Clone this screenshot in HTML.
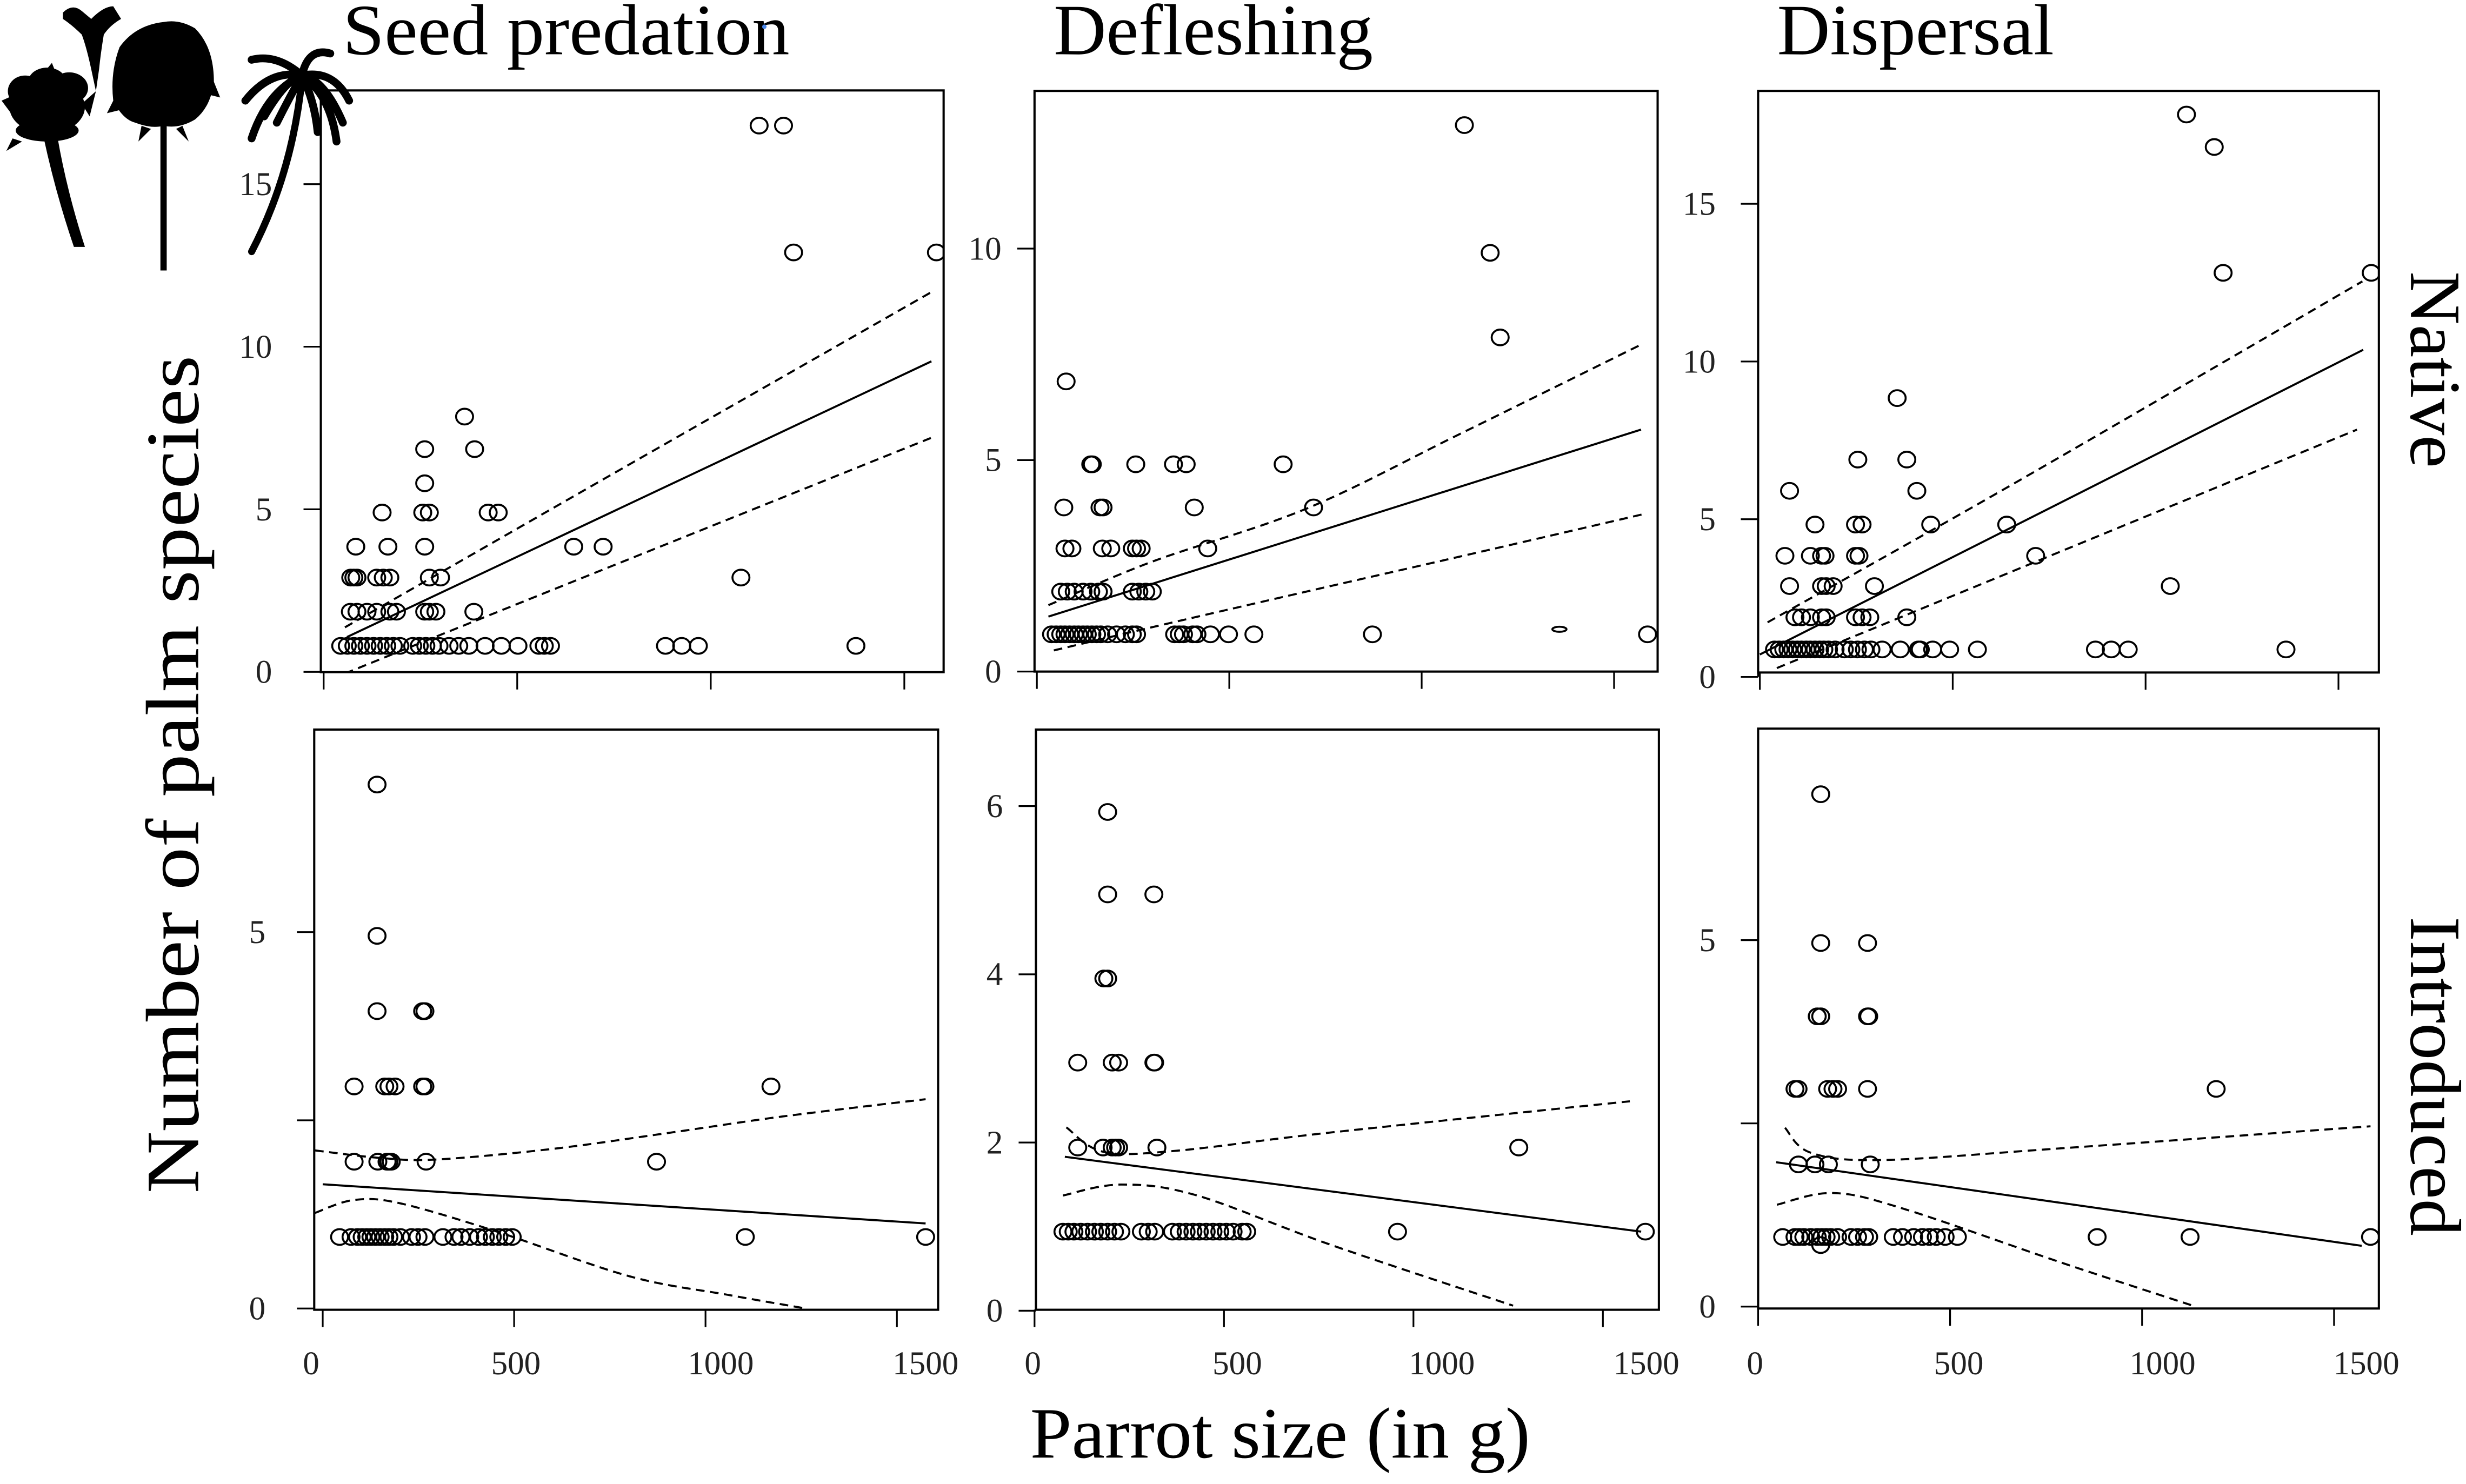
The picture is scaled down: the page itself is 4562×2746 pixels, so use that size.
<!DOCTYPE html>
<html><head><meta charset="utf-8"><style>
html,body{margin:0;padding:0;background:#fff;}
svg{display:block;}
text{font-family:"Liberation Serif","Times New Roman",serif;}
</style></head><body>
<svg id="fig" xmlns="http://www.w3.org/2000/svg" width="4562" height="2746" viewBox="0 0 1568 943.8">
<rect x="0" y="0" width="1568" height="943.8" fill="#fff"/>
<defs id="defs"></defs>
<g fill="#000" stroke="none">
  <g>
    <ellipse cx="30" cy="68" rx="24" ry="17"/>
    <ellipse cx="16" cy="58" rx="11" ry="10"/>
    <ellipse cx="44" cy="56" rx="12" ry="10"/>
    <ellipse cx="30" cy="52" rx="12" ry="9"/>
    <ellipse cx="30" cy="83" rx="20" ry="7"/>
    <path d="M7,72 L1,64 L10,60 Z M52,66 L61,58 L57,74 Z M28,46 L33,40 L37,50 Z M8,88 L4,96 L14,90 Z"/>
    <path d="M27,84 L36,84 Q42,120 54,157 L47,157 Q35,122 27,84 Z"/>
  </g>
  <g>
    <path d="M40,8 Q46,2 52,7 L58,12 Q66,4 72,4 L77,12 Q70,16 66,22 Q64,34 63,44 L61,58 L58,44 Q55,30 52,22 Q46,16 40,12 Z"/>
  </g>
  <g>
    <path d="M104,14 Q86,16 76,30 Q70,46 72,64 Q78,76 86,78 Q96,82 104,80 Q114,82 124,76 Q134,68 136,52 Q136,30 124,18 Q114,12 104,14 Z"/>
    <path d="M72,64 L68,72 L76,70 Z M136,52 L140,62 L132,60 Z M90,80 L88,90 L96,82 Z M116,80 L120,90 L112,82 Z"/>
    <path d="M102,60 L106,60 L106,172 L102,172 Z"/>
  </g>
  <g fill="none" stroke="#000" stroke-linecap="round">
    <path d="M192,48 Q172,44 156,64" stroke-width="5"/>
    <path d="M192,48 Q170,58 160,88" stroke-width="5"/>
    <path d="M192,48 Q176,34 160,38" stroke-width="5"/>
    <path d="M192,48 Q196,30 210,34" stroke-width="5"/>
    <path d="M192,48 Q212,44 222,64" stroke-width="5"/>
    <path d="M192,48 Q210,60 214,90" stroke-width="5"/>
    <path d="M192,48 Q200,64 202,84" stroke-width="5"/>
    <path d="M192,48 Q184,62 176,78" stroke-width="5"/>
    <path d="M192,48 Q182,50 168,74" stroke-width="5"/>
    <path d="M192,48 Q206,50 218,78" stroke-width="5"/>
    <path d="M192,50 Q186,110 160,160" stroke-width="4.5"/>
  </g>
</g>
<text x="218" y="34.5" font-size="46" textLength="284" lengthAdjust="spacingAndGlyphs">Seed predation</text>
<circle cx="486" cy="17" r="1.4" fill="#4a86e8"/>
<text x="670" y="34.5" font-size="46" textLength="203" lengthAdjust="spacingAndGlyphs">Defleshing</text>
<text x="1130" y="34.5" font-size="46" textLength="176" lengthAdjust="spacingAndGlyphs">Dispersal</text>
<text transform="translate(126,759) rotate(-90)" x="0" y="0" font-size="48" textLength="533" lengthAdjust="spacingAndGlyphs">Number of palm species</text>
<text x="655" y="927" font-size="46" textLength="318" lengthAdjust="spacingAndGlyphs">Parrot size (in g)</text>
<text transform="translate(1533,172.6) rotate(90)" x="0" y="0" font-size="46" textLength="125" lengthAdjust="spacingAndGlyphs">Native</text>
<text transform="translate(1533,583) rotate(90)" x="0" y="0" font-size="46" textLength="203" lengthAdjust="spacingAndGlyphs">Introduced</text>
<g id="panels"></g>
</svg>
<script>
// ---------- data ----------
const xTicks = [0, 500, 1000, 1500];
const xTickLabels = ["0", "500", "1000", "1500"];

// Seed predation / Native
const P11_x = [1125,1188, 1214,1583, 364, 261,390, 261, 151,256,273,425,451, 83,166,261,646,722, 70,78,86,137,154,171,273,302,1078, 69,86,112,137,171,188,261,273,290,388, 44,61,78,95,112,129,146,163,180,197,230,247,264,281,298,324,349,375,417,459,502,556,570,586,883,925,968,1375];
const P11_y = [16.8,16.8, 12.9,12.9, 7.85, 6.85,6.85, 5.8, 4.9,4.9,4.9,4.9,4.9, 3.85,3.85,3.85,3.85,3.85, 2.9,2.9,2.9,2.9,2.9,2.9,2.9,2.9,2.9, 1.85,1.85,1.85,1.85,1.85,1.85,1.85,1.85,1.85,1.85, 0.8,0.8,0.8,0.8,0.8,0.8,0.8,0.8,0.8,0.8,0.8,0.8,0.8,0.8,0.8,0.8,0.8,0.8,0.8,0.8,0.8,0.8,0.8,0.8,0.8,0.8,0.8,0.8];
const P11_fitX = [60, 1570];
const P11_fitY = [1.07, 9.55];
const P11_upX = [55, 300, 800, 1570];
const P11_up = [1.37, 3.04, 6.45, 11.68];
const P11_loX = [55, 300, 800, 1570];
const P11_lo = [-0.05, 1.13, 3.52, 7.2];
const P11_yTicks = [0, 5, 10, 15];
const P11_yLabels = ["0", "5", "10", "15"];

// Defleshing / Native
const P12_x = [1111, 1178, 1204, 76, 140,144,257,355,388,640, 70,164,172,409,719, 73,91,170,192,248,259,271,444, 62,79,97,120,140,160,172,248,265,283,300, 38,50,62,73,85,97,108,120,131,143,155,166,184,207,230,248,259,358,370,381,405,416,451,498,564,872,1587];
const P12_y = [12.92, 9.9, 7.9, 6.86, 4.9,4.9,4.9,4.9,4.9,4.9, 3.88,3.88,3.88,3.88,3.88, 2.91,2.91,2.91,2.91,2.91,2.91,2.91,2.91, 1.89,1.89,1.89,1.89,1.89,1.89,1.89,1.89,1.89,1.89,1.89, 0.88,0.88,0.88,0.88,0.88,0.88,0.88,0.88,0.88,0.88,0.88,0.88,0.88,0.88,0.88,0.88,0.88,0.88,0.88,0.88,0.88,0.88,0.88,0.88,0.88,0.88,0.88];
const P12_flatX = [1358];
const P12_flatY = [1.0];
const P12_fitX = [30, 1570];
const P12_fitY = [1.30, 5.72];
const P12_upX = [30, 300, 700, 1100, 1570];
const P12_up = [1.57, 2.6, 3.85, 5.62, 7.73];
const P12_loX = [44, 300, 700, 1100, 1585];
const P12_lo = [0.5, 1.05, 1.89, 2.72, 3.74];
const P12_yTicks = [0, 5, 10];
const P12_yLabels = ["0", "5", "10"];

// Dispersal / Native
const P13_x = [1106, 1178, 1201,1585, 356, 254,381, 77,407, 143,248,265,443,640, 65,131,160,169,248,257,715, 77,160,172,190,297,1064, 91,108,131,160,172,248,265,285,381, 38,50,62,73,85,97,108,120,131,143,155,166,178,195,219,236,253,271,288,317,364,411,416,448,492,564,870,911,955,1364];
const P13_y = [17.83, 16.8, 12.81,12.81, 8.84, 6.89,6.89, 5.9,5.9, 4.83,4.83,4.83,4.83,4.83, 3.84,3.84,3.84,3.84,3.84,3.84,3.84, 2.88,2.88,2.88,2.88,2.88,2.88, 1.89,1.89,1.89,1.89,1.89,1.89,1.89,1.89,1.89, 0.87,0.87,0.87,0.87,0.87,0.87,0.87,0.87,0.87,0.87,0.87,0.87,0.87,0.87,0.87,0.87,0.87,0.87,0.87,0.87,0.87,0.87,0.87,0.87,0.87,0.87,0.87,0.87,0.87,0.87];
const P13_fitX = [0, 1564];
const P13_fitY = [0.71, 10.37];
const P13_upX = [20, 640, 1562];
const P13_up = [1.73, 6.0, 12.54];
const P13_loX = [44, 715, 1548];
const P13_lo = [0.28, 3.65, 7.84];
const P13_yTicks = [0, 5, 10, 15];
const P13_yLabels = ["0", "5", "10", "15"];

// Seed predation / Introduced
const P21_x = [142, 142, 142,261,267, 82,162,173,189,261,267,1171, 82,144,168,173,179,270,872, 44,74,91,103,115,126,138,150,162,173,185,203,232,249,267,314,343,361,384,407,425,443,460,478,495,1104,1575];
const P21_y = [6.96, 4.95, 3.95,3.95,3.95, 2.95,2.95,2.95,2.95,2.95,2.95,2.95, 1.95,1.95,1.95,1.95,1.95,1.95,1.95, 0.95,0.95,0.95,0.95,0.95,0.95,0.95,0.95,0.95,0.95,0.95,0.95,0.95,0.95,0.95,0.95,0.95,0.95,0.95,0.95,0.95,0.95,0.95,0.95,0.95,0.95,0.95];
const P21_fitX = [0, 1575];
const P21_fitY = [1.65, 1.13];
const P21_upX = [-20, 150, 300, 600, 900, 1200, 1575];
const P21_up = [2.1, 2.0, 1.98, 2.12, 2.33, 2.55, 2.78];
const P21_loX = [-20, 80, 200, 450, 800, 1060, 1262];
const P21_lo = [1.27, 1.44, 1.4, 1.03, 0.43, 0.18, 0];
const P21_yTicks = [0, 2.5, 5];
const P21_yLabels = ["0", "", "5"];

// Defleshing / Introduced
const P22_x = [193, 193,315, 183,193, 114,205,222,315,317, 114,181,205,214,222,323,1278, 75,89,104,122,140,158,175,193,211,228,282,300,317,364,382,400,418,435,453,471,489,506,524,548,560,958,1612];
const P22_y = [5.93, 4.95,4.95, 3.95,3.95, 2.95,2.95,2.95,2.95,2.95, 1.94,1.94,1.94,1.94,1.94,1.94,1.94, 0.94,0.94,0.94,0.94,0.94,0.94,0.94,0.94,0.94,0.94,0.94,0.94,0.94,0.94,0.94,0.94,0.94,0.94,0.94,0.94,0.94,0.94,0.94,0.94,0.94,0.94,0.94];
const P22_fitX = [80, 1601];
const P22_fitY = [1.83, 0.94];
const P22_upX = [84, 181, 370, 784, 1571];
const P22_up = [2.18, 1.89, 1.9, 2.12, 2.49];
const P22_loX = [75, 228, 429, 784, 1263];
const P22_lo = [1.37, 1.5, 1.37, 0.78, 0.06];
const P22_yTicks = [0, 2, 4, 6];
const P22_yLabels = ["0", "2", "4", "6"];

// Dispersal / Introduced
const P23_x = [163, 163,285, 154,163,285,288, 96,104,181,195,207,285,1193, 105,148,183,292, 64,96,107,119,137,154,166,177,189,207,242,259,277,288,352,376,405,428,446,464,487,519,883,1125,1595, 163];
const P23_y = [6.99, 4.96,4.96, 3.96,3.96,3.96,3.96, 2.97,2.97,2.97,2.97,2.97,2.97,2.97, 1.94,1.94,1.94,1.94, 0.95,0.95,0.95,0.95,0.95,0.95,0.95,0.95,0.95,0.95,0.95,0.95,0.95,0.95,0.95,0.95,0.95,0.95,0.95,0.95,0.95,0.95,0.95,0.95,0.95, 0.84];
const P23_fitX = [47, 1572];
const P23_fitY = [1.97, 0.83];
const P23_upX = [70, 137, 323, 790, 1595];
const P23_up = [2.44, 2.1, 2.0, 2.16, 2.46];
const P23_loX = [49, 195, 382, 790, 1128];
const P23_lo = [1.39, 1.55, 1.33, 0.6, 0.02];
const P23_yTicks = [0, 2.5, 5];
const P23_yLabels = ["0", "", "5"];

// ---------- layout ----------
const panels = [
  {id:'seed-predation-native', L:204, R:600, T:57.5, B:427.5, px0:205.8, px1500:575, py0:427.3, k:20.68, labOff:31, xLab:false,
   xs:P11_x, ys:P11_y, fitX:P11_fitX, fitY:P11_fitY, upX:P11_upX, up:P11_up, loX:P11_loX, lo:P11_lo, yT:P11_yTicks, yL:P11_yLabels},
  {id:'defleshing-native', L:657.8, R:1054, T:57.8, B:427.1, px0:659.3, px1500:1026.3, py0:427.1, k:26.9, labOff:21, xLab:false,
   xs:P12_x, ys:P12_y, fitX:P12_fitX, fitY:P12_fitY, upX:P12_upX, up:P12_up, loX:P12_loX, lo:P12_lo, yT:P12_yTicks, yL:P12_yLabels, flatX:P12_flatX, flatY:P12_flatY},
  {id:'dispersal-native', L:1117.9, R:1512.6, T:57.8, B:427.7, px0:1119, px1500:1486.9, py0:430.5, k:20.06, labOff:27, xLab:false,
   xs:P13_x, ys:P13_y, fitX:P13_fitX, fitY:P13_fitY, upX:P13_upX, up:P13_up, loX:P13_loX, lo:P13_lo, yT:P13_yTicks, yL:P13_yLabels},
  {id:'seed-predation-introduced', L:199.8, R:596.5, T:464, B:833, px0:205.2, px1500:570.3, py0:832.2, k:47.88, labOff:31, xLab:true,
   xs:P21_x, ys:P21_y, fitX:P21_fitX, fitY:P21_fitY, upX:P21_upX, up:P21_up, loX:P21_loX, lo:P21_lo, yT:P21_yTicks, yL:P21_yLabels},
  {id:'defleshing-introduced', L:658.7, R:1054.8, T:464, B:833, px0:657.8, px1500:1019.2, py0:833.6, k:53.49, labOff:21, xLab:true,
   xs:P22_x, ys:P22_y, fitX:P22_fitX, fitY:P22_fitY, upX:P22_upX, up:P22_up, loX:P22_loX, lo:P22_lo, yT:P22_yTicks, yL:P22_yLabels},
  {id:'dispersal-introduced', L:1117.9, R:1512.6, T:463.4, B:832.2, px0:1117.9, px1500:1484.1, py0:831, k:46.62, labOff:27, xLab:true,
   xs:P23_x, ys:P23_y, fitX:P23_fitX, fitY:P23_fitY, upX:P23_upX, up:P23_up, loX:P23_loX, lo:P23_lo, yT:P23_yTicks, yL:P23_yLabels}
];

const NS = 'http://www.w3.org/2000/svg';
function mk(tag, attrs, parent){
  const e = document.createElementNS(NS, tag);
  for (const a in attrs) e.setAttribute(a, attrs[a]);
  parent.appendChild(e);
  return e;
}
function smooth(pts){
  let d = 'M' + pts[0][0].toFixed(2) + ',' + pts[0][1].toFixed(2);
  for (let i = 0; i < pts.length - 1; i++){
    const p0 = pts[i-1] || pts[i], p1 = pts[i], p2 = pts[i+1], p3 = pts[i+2] || p2;
    const c1 = [p1[0] + (p2[0]-p0[0])/6, p1[1] + (p2[1]-p0[1])/6];
    const c2 = [p2[0] - (p3[0]-p1[0])/6, p2[1] - (p3[1]-p1[1])/6];
    d += ' C' + c1[0].toFixed(2) + ',' + c1[1].toFixed(2) + ' ' + c2[0].toFixed(2) + ',' + c2[1].toFixed(2) + ' ' + p2[0].toFixed(2) + ',' + p2[1].toFixed(2);
  }
  return d;
}

const root = document.getElementById('panels');
const defs = document.getElementById('defs');

panels.forEach(function(p){
  const sx = v => p.px0 + v * (p.px1500 - p.px0) / 1500;
  const sy = v => p.py0 - v * p.k;
  const lx = v => p.L - 2 + v * (p.R - p.L - 6) / 1500;

  const cp = mk('clipPath', {id: 'clip-' + p.id}, defs);
  mk('rect', {x: p.L, y: p.T, width: p.R - p.L, height: p.B - p.T}, cp);

  const g = mk('g', {}, root);
  
  

  const yAxis = mk('g', {stroke: '#000', 'stroke-width': 1.1}, g);
  
  
  const yMin = Math.min.apply(null, p.yT), yMax = Math.max.apply(null, p.yT);
  const yl = mk('line', {x1: p.L, x2: p.L, y1: sy(yMin), y2: sy(yMax)}, yAxis);
  
  
  p.yT.forEach(function(v, i){
    const t = mk('line', {x1: p.L - 11, x2: p.L, y1: sy(v), y2: sy(v)}, yAxis);
    
    
    if (p.yL[i] !== ''){
      const tx = mk('text', {x: p.L - p.labOff, y: sy(v) + 7, 'font-size': 21, 'text-anchor': 'end', fill: '#222', stroke: 'none'}, g);
      tx.textContent = p.yL[i];
      
      
    }
  });

  const xAxis = mk('g', {stroke: '#000', 'stroke-width': 1.1}, g);
  
  
  const xl = mk('line', {x1: sx(xTicks[0]), x2: sx(xTicks[xTicks.length-1]), y1: p.B, y2: p.B}, xAxis);
  
  
  xTicks.forEach(function(v, i){
    const t = mk('line', {x1: sx(v), x2: sx(v), y1: p.B, y2: p.B + 11}, xAxis);
    
    
    if (p.xLab){
      const tx = mk('text', {x: lx(v), y: 874, 'font-size': 21, 'text-anchor': 'middle', fill: '#222', stroke: 'none'}, g);
      tx.textContent = xTickLabels[i];
      
      
    }
  });

  const fr = mk('rect', {x: p.L, y: p.T, width: p.R - p.L, height: p.B - p.T, fill: 'none', stroke: '#000', 'stroke-width': 1.4}, g);
  
  

  const plot = mk('g', {'clip-path': 'url(#clip-' + p.id + ')'}, g);
  
  

  const pts = mk('g', {fill: 'none', stroke: '#000', 'stroke-width': 1.25}, plot);
  
  
  p.xs.forEach(function(xv, i){
    const c = mk('ellipse', {cx: sx(xv), cy: sy(p.ys[i]), rx: 5.4, ry: 5.0}, pts);
    
    
  });
  if (p.flatX){
    p.flatX.forEach(function(xv, i){
      const c = mk('ellipse', {cx: sx(xv), cy: sy(p.flatY[i]), rx: 4.5, ry: 1.6}, pts);
      
      
    });
  }

  const fit = mk('line', {x1: sx(p.fitX[0]), y1: sy(p.fitY[0]), x2: sx(p.fitX[1]), y2: sy(p.fitY[1]), stroke: '#000', 'stroke-width': 1.3}, plot);
  
  

  const upPts = p.upX.map((xv, i) => [sx(xv), sy(p.up[i])]);
  const up = mk('path', {d: smooth(upPts), fill: 'none', stroke: '#000', 'stroke-width': 1.3, 'stroke-dasharray': '5.5 3.5'}, plot);
  
  
  const loPts = p.loX.map((xv, i) => [sx(xv), sy(p.lo[i])]);
  const lo = mk('path', {d: smooth(loPts), fill: 'none', stroke: '#000', 'stroke-width': 1.3, 'stroke-dasharray': '5.5 3.5'}, plot);
  
  
});
</script>
</body></html>
